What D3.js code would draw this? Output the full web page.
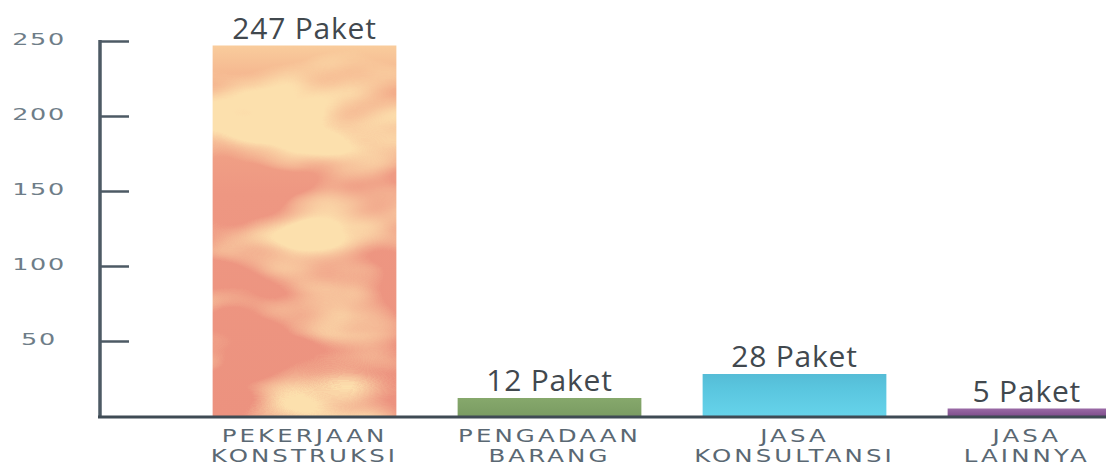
<!DOCTYPE html>
<html>
<head>
<meta charset="utf-8">
<script src="https://cdn.jsdelivr.net/npm/d3@7"></script>
<style>
  html, body { margin: 0; padding: 0; background: #ffffff; }
  svg { display: block; }
</style>
</head>
<body>
<svg id="chart" width="1106" height="469"></svg>
<script>
// ---- data ----
const categories = ["PEKERJAAN KONSTRUKSI", "PENGADAAN BARANG", "JASA KONSULTANSI", "JASA LAINNYA"];
const categoryLines = [["PEKERJAAN", "KONSTRUKSI"], ["PENGADAAN", "BARANG"], ["JASA", "KONSULTANSI"], ["JASA", "LAINNYA"]];
const values = [247, 12, 28, 5];
const valueLabels = ["247 Paket", "12 Paket", "28 Paket", "5 Paket"];
const yTicks = [50, 100, 150, 200, 250];
const barColors = ["url(#gOrange)", "url(#gGreen)", "url(#gBlue)", "url(#gPurple)"];

const W = 1106, H = 469;
const svg = d3.select("#chart");

// ---- defs: gradients and texture ----
const defs = svg.append("defs");
function vGrad(id, stops) {
  const g = defs.append("linearGradient").attr("id", id)
    .attr("x1", 0).attr("y1", 0).attr("x2", 0).attr("y2", 1);
  stops.forEach(s => g.append("stop").attr("offset", s[0]).attr("stop-color", s[1]));
}
vGrad("gOrange", [[0, "#f9cc9c"], [0.12, "#f3ad8a"], [0.4, "#ee9782"], [1, "#ec927f"]]);
vGrad("gGreen", [[0, "#86a86c"], [1, "#7a9c62"]]);
vGrad("gBlue", [[0, "#55bcd6"], [0.35, "#5ac6df"], [1, "#66d3ea"]]);
vGrad("gPurple", [[0, "#9a6aa6"], [1, "#7f4f8c"]]);

const f = defs.append("filter").attr("id", "marble")
  .attr("x", 0).attr("y", 0).attr("width", "100%").attr("height", "100%")
  .attr("color-interpolation-filters", "sRGB");
f.append("feTurbulence").attr("type", "fractalNoise")
  .attr("baseFrequency", "0.005 0.012").attr("numOctaves", 3).attr("seed", 11).attr("result", "noise");
f.append("feColorMatrix").attr("in", "noise").attr("type", "matrix")
  .attr("values", "0 0 0 0 0.99  0 0 0 0 0.88  0 0 0 0 0.68  4.6 0 0 0 -2.15")
  .attr("result", "light");
f.append("feComposite").attr("in", "light").attr("in2", "SourceGraphic").attr("operator", "atop");

// ---- scales ----
const y = d3.scaleLinear().domain([0, 250]).range([416, 41]);
const x = d3.scaleBand().domain(categories).range([182, 1162])
  .paddingInner(0.25).paddingOuter(0.125);

// ---- bars ----
svg.append("g").selectAll("rect").data(categories).join("rect")
  .attr("x", d => x(d))
  .attr("y", (d, i) => y(values[i]))
  .attr("width", x.bandwidth())
  .attr("height", (d, i) => y(0) - y(values[i]))
  .attr("fill", (d, i) => barColors[i])
  .attr("filter", (d, i) => i === 0 ? "url(#marble)" : null);

// ---- y axis ----
const yAxis = d3.axisLeft(y).tickValues(yTicks).tickSizeInner(-29).tickSizeOuter(0);
const ga = svg.append("g").attr("transform", "translate(100,0)").call(yAxis);
ga.select(".domain").attr("stroke", "#4d5a64").attr("stroke-width", 3.5)
  .attr("d", `M0,${y(250) - 1}V${y(0) + 1}`);
ga.selectAll(".tick line").attr("stroke", "#4d5a64").attr("stroke-width", 2.5);
ga.selectAll(".tick text")
  .attr("x", 0).attr("dy", null)
  .attr("transform", "translate(-61,3) scale(1.7,1)")
  .attr("text-anchor", "middle")
  .attr("fill", "#6e7d88")
  .style("font-family", "'DejaVu Sans', sans-serif")
  .style("font-size", "15px")
  .style("letter-spacing", "1px");

// ---- baseline ----
svg.append("line")
  .attr("x1", 98).attr("x2", W).attr("y1", y(0) + 1).attr("y2", y(0) + 1)
  .attr("stroke", "#3f4b54").attr("stroke-width", 3);

// helper: visible center of a band
const cx = d => (x(d) + Math.min(x(d) + x.bandwidth(), W)) / 2;

// ---- value labels ----
svg.append("g").selectAll("text").data(categories).join("text")
  .attr("x", d => cx(d))
  .attr("y", (d, i) => y(values[i]) - 7)
  .attr("text-anchor", "middle")
  .attr("fill", "#41484e")
  .style("font-family", "'Open Sans', sans-serif")
  .style("font-size", "30px")
  .style("letter-spacing", "0.8px")
  .text((d, i) => valueLabels[i]);

// ---- category labels ----
const cg = svg.append("g").selectAll("g").data(categories).join("g")
  .attr("transform", d => `translate(${cx(d)},0) scale(1.4,1)`);
cg.each(function (d, i) {
  const g = d3.select(this);
  categoryLines[i].forEach((line, k) => {
    g.append("text")
      .attr("x", 0).attr("y", 442 + k * 20)
      .attr("text-anchor", "middle")
      .attr("fill", "#5a6873")
      .style("font-family", "'DejaVu Sans', sans-serif")
      .style("font-size", "17.5px")
      .style("letter-spacing", "2.2px")
      .text(line);
  });
});
</script>
</body>
</html>
